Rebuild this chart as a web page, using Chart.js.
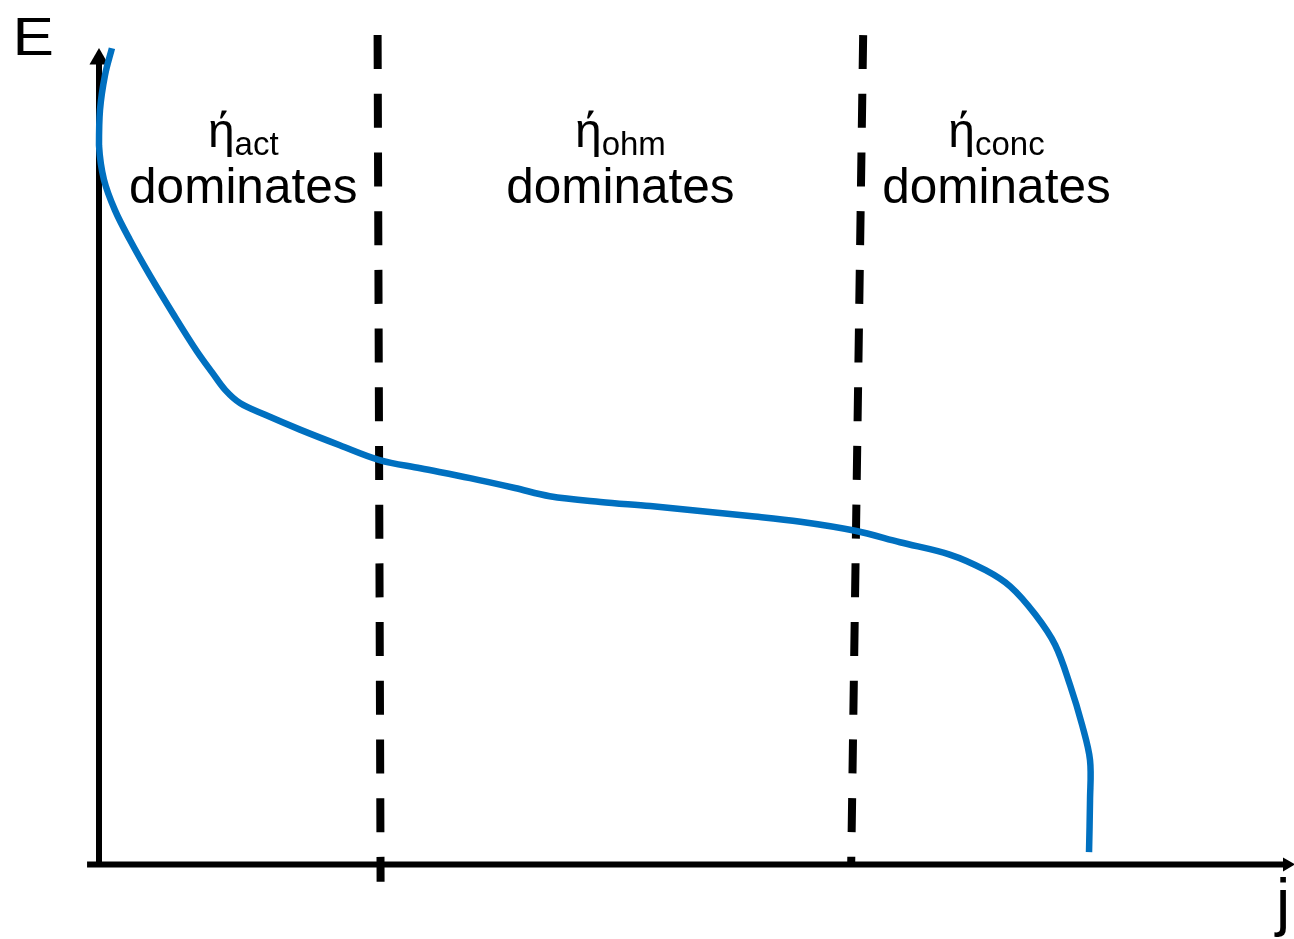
<!DOCTYPE html>
<html><head><meta charset="utf-8">
<script src="https://cdn.jsdelivr.net/npm/chart.js@4"></script>
<style>html,body{margin:0;padding:0;background:#fff}canvas{display:block}</style>
</head><body>
<canvas id="c" width="1294" height="939"></canvas>
<script>
// Polarization curve (j, E)
const curveJ = [0.13,0.06,0.01,0.00,0.05,0.16,0.31,0.51,0.76,0.98,1.14,1.27,1.42,1.67,2.02,2.42,2.82,3.23,3.73,4.18,4.53,5.04,5.54,6.04,6.54,7.05,7.60,8.05,8.55,8.91,9.16,9.41,9.61,9.76,9.88,9.96,9.96,9.95];
const curveE = [9.90,9.57,9.15,8.72,8.30,7.93,7.57,7.14,6.64,6.22,5.95,5.74,5.58,5.44,5.26,5.07,4.89,4.79,4.67,4.55,4.45,4.38,4.33,4.27,4.21,4.14,4.03,3.89,3.74,3.55,3.35,3.01,2.64,2.15,1.67,1.24,0.75,0.12];
// Dashed region dividers
const divider1J = [2.80, 2.83];
const divider1E = [10.06, -0.24];
const divider2J = [7.68, 7.56];
const divider2E = [10.06, 0.00];
// Axes
const xAxisJ = [-0.12, 11.94];
const xAxisE = [-0.03, -0.03];
const yAxisJ = [0, 0];
const yAxisE = [-0.05, 9.77];
// Region labels
const regionSubscripts = ['act', 'ohm', 'conc'];
const regionWord = 'dominates';
const regionCenterJ = [1.45, 5.24, 9.02];
const axisTitleY = 'E';
const axisTitleX = 'j';

const pts = (xs, ys) => xs.map((x, i) => ({x, y: ys[i]}));
const FONT = '"Liberation Sans", Arial, Helvetica, sans-serif';

const labelsPlugin = {
  id: 'labels',
  afterDatasetsDraw(chart) {
    const {ctx, scales: {x, y}} = chart;
    ctx.save();
    ctx.fillStyle = '#000';
    ctx.textBaseline = 'alphabetic';
    regionCenterJ.forEach((cj, i) => {
      const cx = x.getPixelForValue(cj);
      ctx.font = '49.5px ' + FONT;
      ctx.textAlign = 'center';
      ctx.fillText(regionWord, cx, y.getPixelForValue(8.02));
      ctx.textAlign = 'left';
      ctx.font = '48px ' + FONT;
      const w1 = ctx.measureText('ή').width;
      ctx.font = '33px ' + FONT;
      const w2 = ctx.measureText(regionSubscripts[i]).width;
      const sx = cx - (w1 + w2) / 2;
      ctx.font = '48px ' + FONT;
      ctx.fillText('ή', sx, y.getPixelForValue(8.70));
      ctx.font = '33px ' + FONT;
      ctx.fillText(regionSubscripts[i], sx + w1, y.getPixelForValue(8.60));
    });
    ctx.textAlign = 'left';
    ctx.font = '54px ' + FONT;
    ctx.save();
    ctx.translate(x.getPixelForValue(-0.87), y.getPixelForValue(9.82));
    ctx.scale(1.15, 1);
    ctx.fillText(axisTitleY, 0, 0);
    ctx.restore();
    ctx.textAlign = 'center';
    ctx.font = '64px ' + FONT;
    ctx.fillText(axisTitleX, x.getPixelForValue(11.90), y.getPixelForValue(-0.76));
    ctx.restore();
  }
};

new Chart(document.getElementById('c'), {
  type: 'line',
  data: {
    datasets: [
      {data: pts(curveJ, curveE), borderColor: '#0070C0', borderWidth: 6.5, tension: 0.35, pointRadius: 0, clip: false, order: 1},
      {data: pts(divider1J, divider1E), borderColor: '#000', borderWidth: 8, borderDash: [34, 24.7], borderCapStyle: 'butt', pointRadius: 0, clip: false, order: 2},
      {data: pts(divider2J, divider2E), borderColor: '#000', borderWidth: 8, borderDash: [34, 24.7], borderCapStyle: 'butt', pointRadius: 0, clip: false, order: 2},
      {data: pts(xAxisJ, xAxisE), borderColor: '#000', borderWidth: 6, borderCapStyle: 'butt', pointRadius: [0, 8], pointStyle: 'triangle', rotation: 90, pointBackgroundColor: '#000', pointBorderColor: '#000', pointBorderWidth: 0, clip: false, order: 3},
      {data: pts(yAxisJ, yAxisE), borderColor: '#000', borderWidth: 6, borderCapStyle: 'butt', pointRadius: [0, 11], pointStyle: 'triangle', rotation: 0, pointBackgroundColor: '#000', pointBorderColor: '#000', pointBorderWidth: 0, clip: false, order: 3}
    ]
  },
  options: {
    responsive: false,
    animation: false,
    events: [],
    layout: {autoPadding: false, padding: {left: 99, right: 1, top: 40, bottom: 77}},
    plugins: {legend: {display: false}, tooltip: {enabled: false}},
    scales: {
      x: {type: 'linear', min: 0, max: 12, display: false},
      y: {type: 'linear', min: 0, max: 10, display: false}
    }
  },
  plugins: [labelsPlugin]
});
</script>
</body></html>
